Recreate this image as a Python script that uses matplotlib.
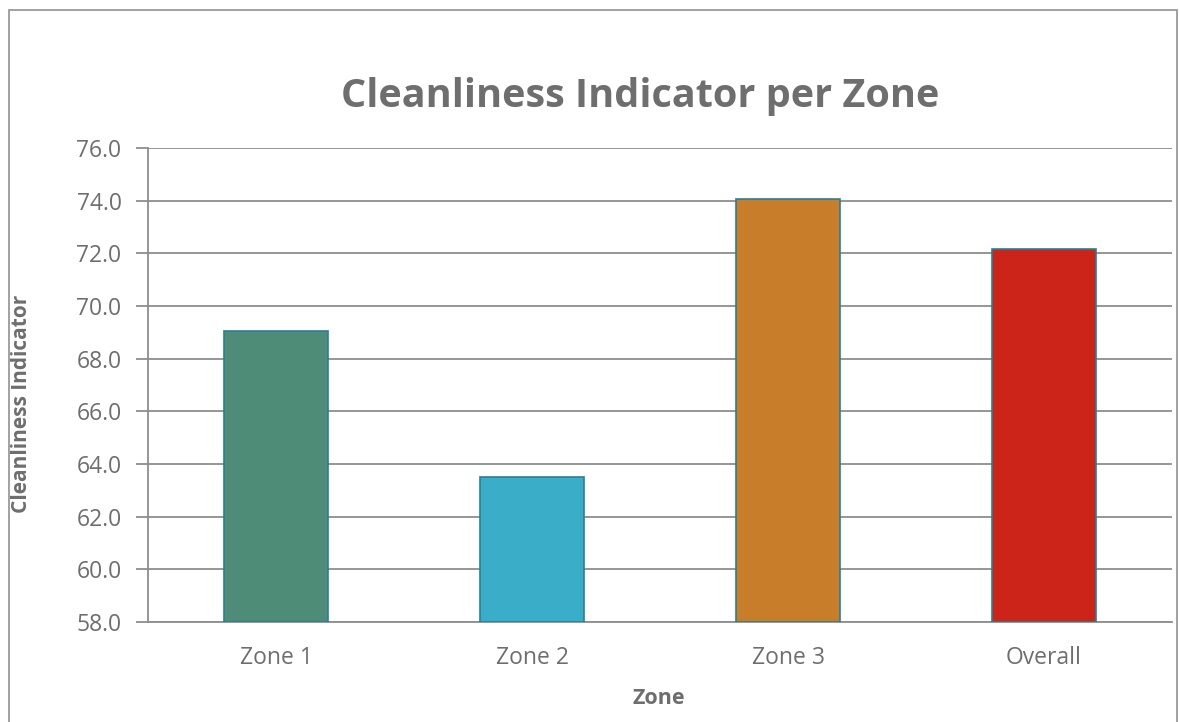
import matplotlib
matplotlib.use("Agg")
import matplotlib.pyplot as plt
from matplotlib.patches import Rectangle

categories = ["Zone 1", "Zone 2", "Zone 3", "Overall"]
values = [69.05, 63.5, 74.08, 72.17]
colors = ["#4E8C78", "#3AADC8", "#C87D2A", "#CC2418"]
yticks = [58, 60, 62, 64, 66, 68, 70, 72, 74, 76]

plt.rcParams['font.family'] = ['Open Sans', 'DejaVu Sans']
txt = "#6E6E6E"
grid = "#8E8E8E"

W, H = 1179, 722
fig = plt.figure(figsize=(W / 100, H / 100), dpi=100)
fig.patch.set_facecolor("white")
fig.patches.append(Rectangle((9 / W, -0.01), (1177 - 9) / W, 1 - 10 / H + 0.01,
                             transform=fig.transFigure, fill=False,
                             edgecolor="#9A9A9A", linewidth=1.3))

left, right, top, bottom = 148, 1172, 148, 622
ax = fig.add_axes([left / W, 1 - bottom / H, (right - left) / W, (bottom - top) / H])

x = list(range(len(categories)))
ax.bar(x, [v - 58 for v in values], bottom=58, width=0.405, color=colors,
       edgecolor="#2A7F95", linewidth=1.2, zorder=3)

ax.set_xlim(-0.5, len(categories) - 0.5)
ax.set_ylim(58, 76)
ax.set_yticks(yticks)
ax.set_yticklabels([f"{t:.1f}" for t in yticks])
ax.set_xticks(x)
ax.set_xticklabels(categories)
ax.yaxis.grid(True, color=grid, linewidth=1.3, zorder=0)
for s in ["top", "right"]:
    ax.spines[s].set_visible(False)
ax.spines["left"].set_color(grid)
ax.spines["left"].set_linewidth(1.3)
ax.spines["bottom"].set_color(grid)
ax.spines["bottom"].set_linewidth(1.3)
ax.tick_params(axis="y", length=9, width=1.3, color=grid, labelsize=16.5,
               labelcolor=txt, pad=10)
ax.tick_params(axis="x", length=0, labelsize=16.5, labelcolor=txt, pad=17)

fig.text(640 / W, 1 - 97 / H, "Cleanliness Indicator per Zone",
         ha="center", va="center", fontsize=28.5, fontweight="bold", color=txt)
fig.text(22 / W, 1 - 404 / H, "Cleanliness Indicator", rotation=90,
         ha="center", va="center", fontsize=15, fontweight="bold", color=txt)
fig.text(659 / W, 1 - 699 / H, "Zone",
         ha="center", va="center", fontsize=15.5, fontweight="bold", color=txt)

fig.savefig("out.png", dpi=100)
